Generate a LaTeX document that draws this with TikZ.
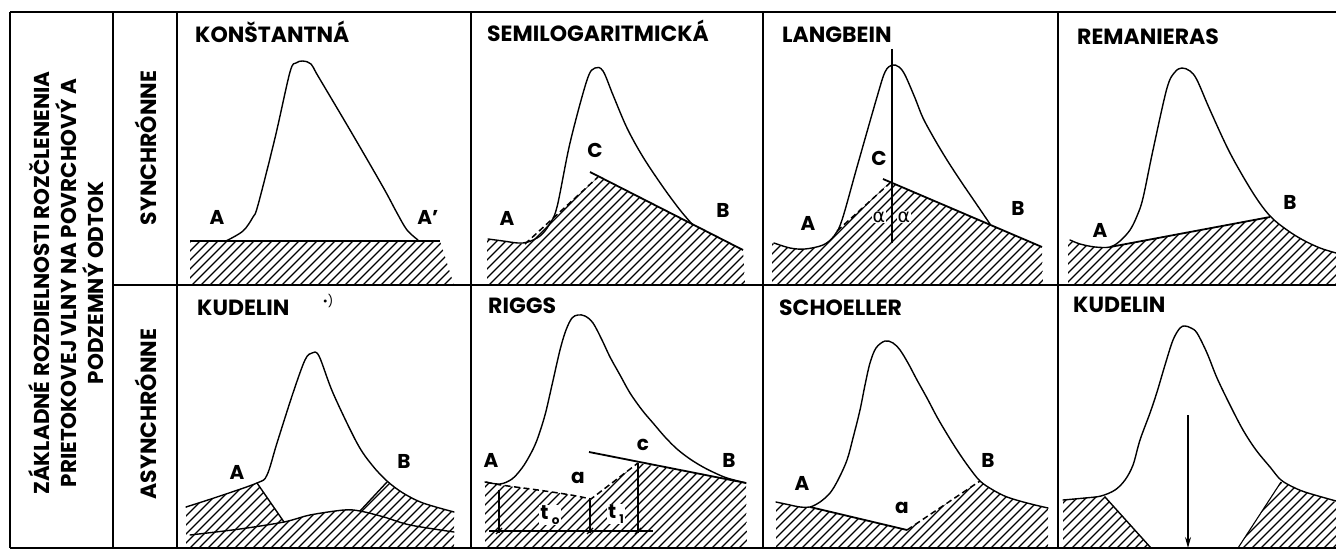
\documentclass[tikz,border=0pt]{standalone}
\usepackage{fontspec}
\setmainfont{Poppins}
\newfontfamily\djv{DejaVu Sans}
\usetikzlibrary{arrows.meta}
\newcommand\hatchregion[1]{\begin{scope}\clip #1;\foreach \k in {-560,-551,...,1340}{\draw[hl] (\k,560) -- ++(560,-560);}\end{scope}}
\begin{document}
\begin{tikzpicture}[x=1pt,y=-1pt,
  frame/.style={line width=1.5pt},
  curve/.style={line width=1.4pt, line join=round, line cap=round},
  base/.style={line width=1.8pt},
  dsh/.style={line width=1.5pt, dash pattern=on 6pt off 3.5pt},
  thinl/.style={line width=1.1pt},
  hl/.style={line width=1.1pt},
  title/.style={font=\bfseries\fontsize{22}{26}\selectfont, anchor=base west, inner sep=0pt},
  lab/.style={font=\bfseries\fontsize{20}{22}\selectfont, inner sep=0pt},
  alph/.style={font=\djv\fontsize{19}{19}\selectfont, inner sep=0pt},
  side/.style={font=\bfseries\fontsize{21.5}{27}\selectfont, rotate=90, align=center, inner sep=0pt},
]
\useasboundingbox (0,0) rectangle (1336,551);
\fill[white] (0,0) rectangle (1336,551);

% ---------- Panel 1: KONSTANTNA ----------
\hatchregion{(190,241) -- (440,241) -- (454,285) -- (190,285) -- cycle}
\draw[base] (190,241) -- (440,241);
\draw[curve] plot[smooth, tension=0.55] coordinates {(226,241) (243,231) (253,217) (258,205) (275,138) (290,72) (296,63) (303,61) (311,64) (318,76) (350,130) (383,187) (397,213) (407,230) (418,240)};
\node[title] (t1) at (195,43) {KONŠTANTNÁ};
\node[lab] (a1) at (217,217) {A};
\node[lab] (a1p) at (428,217) {A’};

% ---------- Panel 2: SEMILOGARITMICKA ----------
\hatchregion{plot[smooth] coordinates {(487,239) (503,241) (525,244)} -- (598,177) -- (743,250) -- (745,285) -- (487,285) -- cycle}
\draw[curve] plot[smooth, tension=0.55] coordinates {(488,239) (503,241) (518,243) (528,242) (540,236) (549,225) (557,207) (570,143) (587,80) (595,68) (603,71) (613,95) (627,128) (643,157) (663,187) (680,210) (692,224)};
\draw[base] (590,172) -- (743,250);
\draw[dsh] (525,244) -- (598,177);
\node[title] (t2) at (487,42) {SEMILOGARITMICKÁ};
\node[lab] (c2) at (595,150) {C};
\node[lab] (a2) at (507,218) {A};
\node[lab] (b2) at (723,210) {B};

% ---------- Panel 3: LANGBEIN ----------
\hatchregion{plot[smooth] coordinates {(772,243) (790,248) (805,249) (823,245) (837,232)} -- (890,182) -- (1042,247) -- (1043,285) -- (772,285) -- cycle}
\draw[curve] plot[smooth, tension=0.55] coordinates {(774,243) (790,248) (805,249) (823,245) (834,236) (842,220) (857,167) (877,97) (885,72) (892,65) (899,67) (905,75) (915,98) (923,118) (935,140) (947,160) (960,180) (975,202) (990,224)};
\draw[thinl] (892,49) -- (892,243);
\draw[dsh] (837,231) -- (890,183);
\draw[base] (883,179) -- (1042,247);
\node[title] (t3) at (782,43) {LANGBEIN};
\node[lab] (c3) at (879,158) {C};
\node[lab] (a3) at (808,223) {A};
\node[lab] (b3) at (1018,208) {B};
\node[alph, fill=white, inner sep=0.5pt] (al1) at (879,217) {α};
\node[alph, fill=white, inner sep=0.5pt] (al2) at (904,217) {α};
\draw[thinl] (892,205) -- (892,243);

% ---------- Panel 4: REMANIERAS ----------
\hatchregion{plot[smooth] coordinates {(1068,240) (1080,244) (1095,247) (1110,247)} -- (1270,217) -- plot[smooth] coordinates {(1270,217) (1287,230) (1303,240) (1320,248) (1336,253)} -- (1336,285) -- (1068,285) -- cycle}
\draw[curve] plot[smooth, tension=0.55] coordinates {(1070,240) (1080,244) (1095,247) (1110,247) (1120,241) (1130,230) (1137,216) (1143,198) (1153,150) (1167,88) (1175,72) (1182,68) (1190,71) (1197,80) (1210,110) (1230,153) (1253,193) (1270,216) (1287,230) (1303,240) (1320,248) (1336,253)};
\draw[base] (1110,247) -- (1270,217);
\node[title] (t4) at (1077,45) {REMANIERAS};
\node[lab] (a4) at (1100,230) {A};
\node[lab] (b4) at (1290,202) {B};

% ---------- Panel 5: KUDELIN *) ----------
\hatchregion{plot[smooth] coordinates {(186,507) (217,497) (257,483)} -- (284,522) -- plot[smooth] coordinates {(284,522) (310,515) (344,510) (360,511)} -- (387,482) -- plot[smooth] coordinates {(387,482) (403,493) (423,503) (454,512)} -- (454,548) -- (186,548) -- cycle}
\draw[curve] plot[smooth, tension=0.55] coordinates {(186,507) (217,497) (257,483) (267,475) (277,443) (293,393) (305,360) (312,353) (319,356) (333,393) (357,443) (372,465) (387,481) (403,493) (423,503) (454,512)};
\draw[curve] plot[smooth] coordinates {(190,535) (240,529) (284,522) (310,515) (344,510) (360,511) (384,517) (410,525) (454,532)};
\draw[curve] (257,483) -- (284,522);
\draw[curve] (387,482) -- (360,511);
\node[title] (t5) at (197,315) {KUDELIN};
\node[inner sep=0pt, font=\fontsize{12}{12}\selectfont] (star) at (328,301) {\textbullet)};
\node[lab] (a5) at (237,472) {A};
\node[lab] (b5) at (404,461) {B};

% ---------- Panel 6: RIGGS ----------
\hatchregion{plot[smooth] coordinates {(485,482) (501,485) (538,490) (571,495) (591,499)} -- (638,463) -- (746,483) -- (747,548) -- (485,548) -- cycle}
\draw[curve] plot[smooth, tension=0.55] coordinates {(485,482) (500,484) (512,479) (522,468) (530,455) (537,440) (545,415) (552,385) (560,350) (566,330) (572,318) (578,315) (585,316) (593,323) (602,340) (610,357) (620,375) (630,393) (642,410) (653,423) (665,437) (677,449) (690,459) (703,467) (715,473) (727,478) (746,483)};
\draw[base] (589,452) -- (746,483);
\draw[dsh] plot[smooth] coordinates {(486,482) (501,485) (538,490) (571,495) (591,499)} -- (638,463);
\node[lab, fill=white, inner sep=1pt] (t0) at (550,515) {t\,\raisebox{-5pt}{\fontsize{12}{12}\selectfont o}};
\node[lab, fill=white, inner sep=1pt] (t1l) at (616,514) {t\,\raisebox{-5pt}{\fontsize{12}{12}\selectfont 1}};
\draw[thinl] (499,490) -- (499,533);
\draw[thinl] (590,500) -- (590,533);
\draw[thinl] (638,463) -- (638,533);
\draw[thinl] (489,531) -- (653,531);
\draw[thinl] (496,534) -- (502,528);
\draw[thinl] (587,534) -- (593,528);
\draw[thinl] (635,534) -- (641,528);
\node[title] (t6) at (488,313) {RIGGS};
\node[lab] (a6) at (491,460) {A};
\node[lab] (b6) at (729,460) {B};
\node[lab] (sa6) at (578,478) {a};
\node[lab] (sc6) at (643,445) {c};

% ---------- Panel 7: SCHOELLER ----------
\hatchregion{plot[smooth] coordinates {(776,502) (790,505) (800,507) (810,507)} -- (907,530) -- (980,481) -- plot[smooth] coordinates {(980,481) (993,490) (1007,497) (1027,503) (1048,508)} -- (1048,548) -- (776,548) -- cycle}
\draw[curve] plot[smooth, tension=0.55] coordinates {(776,502) (790,505) (800,507) (810,507) (820,502) (830,493) (838,480) (847,460) (853,438) (860,410) (865,385) (870,363) (876,348) (885,341) (893,343) (900,350) (908,363) (917,380) (927,398) (937,417) (947,434) (957,450) (968,466) (980,481) (993,490) (1007,497) (1027,503) (1048,508)};
\draw[base] (810,507) -- (907,530);
\draw[dsh] (907,530) -- (980,481);
\node[title] (t7) at (779,315) {SCHOELLER};
\node[lab] (a7) at (802,483) {A};
\node[lab] (b7) at (988,460) {B};
\node[lab] (sa7) at (902,508) {a};

% ---------- Panel 8: KUDELIN ----------
\hatchregion{plot[smooth] coordinates {(1063,500) (1085,498) (1105,496)} -- (1151,548) -- (1063,548) -- cycle}
\hatchregion{(1281,482) -- (1238,548) -- (1336,548) -- (1336,502) -- plot[smooth] coordinates {(1336,502) (1308,493) (1295,488) (1281,482)} -- cycle}
\draw[curve] plot[smooth, tension=0.55] coordinates {(1063,500) (1085,498) (1101,496) (1115,490) (1125,480) (1133,465) (1140,440) (1150,413) (1157,392) (1165,365) (1173,340) (1180,328) (1185,326) (1191,328) (1197,333) (1207,353) (1217,378) (1230,405) (1243,430) (1256,450) (1270,467) (1281,480) (1295,488) (1308,493) (1336,501)};
\draw[curve] (1105,497) -- (1151,548);
\draw[thinl] (1281,482) -- (1238,548);
\node[title] (t8) at (1073,312) {KUDELIN};
\coordinate (arrS) at (1188,415);
\coordinate (arrE) at (1188,548);
\draw[thinl, -{Stealth[length=11pt,width=6pt]}] (arrS) -- (arrE);

% ---------- Frame ----------
\draw[frame] (10,12) -- (1336,12);
\draw[frame] (10,548) -- (1336,548);
\draw[frame] (10,12) -- (10,548);
\foreach \x in {113,177,471,763,1058} \draw[frame] (\x,12) -- (\x,548);
\draw[frame] (113,285) -- (1336,285);

% ---------- Side labels ----------
\node[side] (main) at (66,283) {ZÁKLADNÉ ROZDIELNOSTI ROZČLENENIA\\PRIETOKOVEJ VLNY NA POVRCHOVÝ A\\PODZEMNÝ ODTOK};
\node[side, font=\bfseries\fontsize{22}{27}\selectfont] (syn) at (146,148) {SYNCHRÓNNE};
\node[side, font=\bfseries\fontsize{22}{27}\selectfont] (asyn) at (146,414) {ASYNCHRÓNNE};
\end{tikzpicture}
\end{document}
